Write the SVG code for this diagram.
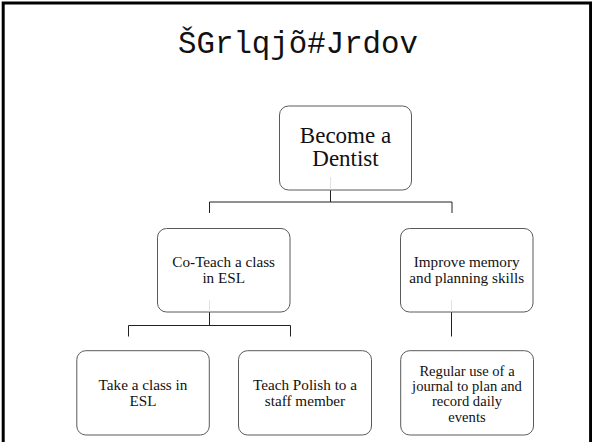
<svg xmlns="http://www.w3.org/2000/svg" width="592" height="442" viewBox="0 0 592 442">
<style>
.box{fill:#fff;stroke:#5a5a5a;stroke-width:1}
.t{font-family:"Liberation Serif","Times New Roman",serif;fill:#111;text-anchor:middle}
.s{font-size:15.2px}
.j{font-size:14.6px}
.big{font-size:23px}
.con{fill:none;stroke:#222;stroke-width:1}
.faint{fill:none;stroke:#e2e2e2;stroke-width:1}
</style>
<rect x="0" y="0" width="592" height="442" fill="#fff"/>
<path d="M3.2,442 V3 H590.6 V442" fill="none" stroke="#000" stroke-width="3"/>
<text x="178" y="53" font-family="'Liberation Mono','Courier New',monospace" font-size="32" textLength="240" lengthAdjust="spacingAndGlyphs" fill="#111">ŠGrlqjõ#Jrdov</text>
<g id="connectors">
<path class="con" d="M330.5,190 V202 M209.5,213 V202 H452 V213"/>
<path class="con" d="M209.5,312 V325.5 M128.5,336.5 V325.5 H290.5 V336.5"/>
<path class="con" d="M451.5,312 V336.5"/>
</g>
<g id="n-dentist">
<rect class="box" x="279.5" y="106" width="132" height="84" rx="9"/>
<line class="faint" x1="330.5" y1="177" x2="330.5" y2="189.5"/>
<text class="t big" x="345.5" y="143.3">Become a</text>
<text class="t big" x="345.5" y="166">Dentist</text>
</g>
<g id="n-coteach">
<rect class="box" x="157.5" y="228.5" width="132.5" height="83.5" rx="9"/>
<line class="faint" x1="209.5" y1="300" x2="209.5" y2="311.5"/>
<text class="t s" x="223.7" y="266.7">Co-Teach a class</text>
<text class="t s" x="223.7" y="283.2">in ESL</text>
</g>
<g id="n-memory">
<rect class="box" x="400.5" y="228.5" width="132.5" height="83.5" rx="9"/>
<line class="faint" x1="451.5" y1="300" x2="451.5" y2="311.5"/>
<text class="t s" x="466.7" y="266.7">Improve memory</text>
<text class="t s" x="466.7" y="283.2">and planning skills</text>
</g>
<g id="n-take">
<rect class="box" x="76.8" y="350.7" width="132.5" height="84.3" rx="9"/>
<text class="t s" x="143" y="390">Take a class in</text>
<text class="t s" x="143" y="405.7">ESL</text>
</g>
<g id="n-polish">
<rect class="box" x="238.5" y="350.7" width="133" height="84.3" rx="9"/>
<text class="t s" x="305" y="390">Teach Polish to a</text>
<text class="t s" x="305" y="405.7">staff member</text>
</g>
<g id="n-journal">
<rect class="box" x="400.7" y="350.7" width="132.8" height="84.3" rx="9"/>
<text class="t j" x="467" y="375.7">Regular use of a</text>
<text class="t j" x="467" y="391">journal to plan and</text>
<text class="t j" x="467" y="406.4">record daily</text>
<text class="t j" x="467" y="421.7">events</text>
</g>
</svg>
